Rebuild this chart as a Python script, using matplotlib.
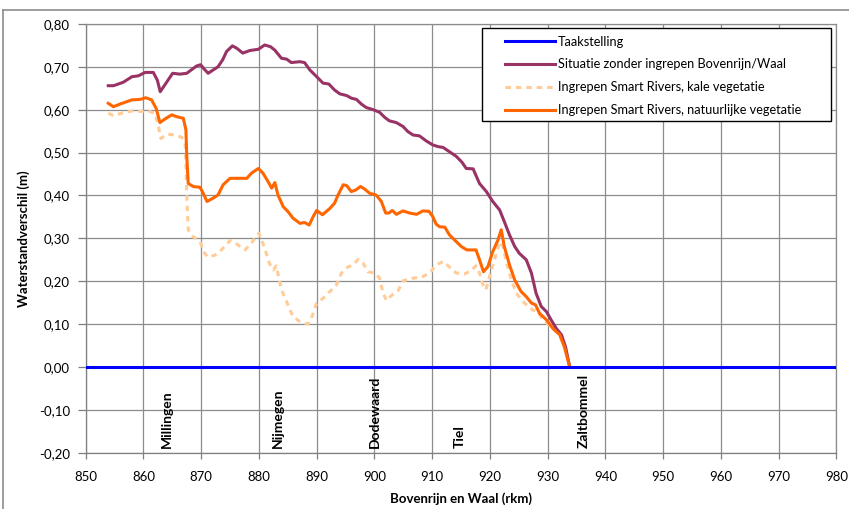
import matplotlib
matplotlib.use("Agg")
import matplotlib.pyplot as plt
from matplotlib.ticker import FuncFormatter, MultipleLocator
from matplotlib.lines import Line2D
from matplotlib.patches import Rectangle

plt.rcParams['font.family'] = ['Lato', 'DejaVu Sans']

# Taakstelling
taak_km = [850, 980]
taak_val = [0.0, 0.0]

# Situatie zonder ingrepen Bovenrijn/Waal
zonder_km = [853.9, 854.8, 856.5, 858.0, 859.1, 860.3, 861.7, 862.4, 862.9, 863.9,
             865.05, 866.3, 867.5, 868.3, 869.2, 869.9, 870.5, 871.2, 872.1, 872.9,
             873.7, 874.4, 875.4, 876.2, 877.2, 878.4, 879.9, 881.0, 882.0, 882.75,
             883.9, 884.8, 885.6, 887.1, 887.9, 888.8, 890.0, 891.1, 892.1, 893.1,
             894.0, 895.2, 896.0, 896.9, 897.75, 898.6, 899.8, 900.9, 901.8, 902.6,
             903.8, 904.95, 905.8, 906.7, 907.8, 909.0, 910.1, 911.0, 911.9, 913.0,
             914.2, 915.2, 915.9, 917.1, 918.2, 919.4, 920.5, 921.7, 922.5, 923.4,
             924.3, 925.1, 926.3, 927.2, 928.0, 928.9, 929.8, 930.6, 931.5, 932.4,
             933.1, 933.8]
zonder_val = [0.656, 0.656, 0.664, 0.677, 0.679, 0.687, 0.687, 0.669, 0.642, 0.662,
              0.685, 0.683, 0.685, 0.693, 0.702, 0.705, 0.695, 0.685, 0.693, 0.700,
              0.716, 0.736, 0.749, 0.743, 0.732, 0.738, 0.741, 0.751, 0.747, 0.739,
              0.720, 0.718, 0.710, 0.712, 0.710, 0.693, 0.677, 0.662, 0.660, 0.646,
              0.637, 0.633, 0.627, 0.624, 0.613, 0.605, 0.600, 0.594, 0.582, 0.574,
              0.570, 0.561, 0.549, 0.541, 0.539, 0.527, 0.518, 0.514, 0.512, 0.502,
              0.491, 0.477, 0.463, 0.462, 0.428, 0.409, 0.386, 0.366, 0.339, 0.308,
              0.281, 0.265, 0.250, 0.219, 0.172, 0.141, 0.129, 0.110, 0.090, 0.075,
              0.047, 0.002]

# Ingrepen Smart Rivers, kale vegetatie
kaal_km = [853.9, 854.8, 856.2, 858.0, 859.4, 860.8, 862.0, 862.6, 863.0, 864.1,
           865.45, 866.6, 867.2, 867.35, 867.5, 867.75, 868.6, 869.8, 870.6, 871.2,
           872.4, 873.5, 875.0, 876.1, 877.6, 878.7, 880.0, 881.0, 881.8, 882.5,
           883.0, 883.9, 884.8, 885.9, 887.1, 888.5, 889.1, 890.0, 891.1, 892.6,
           893.4, 894.3, 895.4, 896.3, 897.2, 898.0, 898.9, 900.05, 900.9, 901.5,
           902.1, 902.9, 904.1, 904.95, 906.7, 908.4, 909.6, 910.7, 911.9, 913.0,
           914.2, 915.6, 916.8, 917.6, 918.2, 918.7, 919.3, 919.95, 920.8, 921.7,
           922.25, 922.9, 923.9, 924.8, 926.0, 927.4, 928.3, 929.2, 930.9, 932.1,
           932.9, 933.8]
kaal_val = [0.592, 0.586, 0.592, 0.597, 0.596, 0.597, 0.592, 0.561, 0.533, 0.543,
            0.541, 0.536, 0.522, 0.475, 0.400, 0.320, 0.304, 0.292, 0.265, 0.256,
            0.261, 0.273, 0.295, 0.287, 0.273, 0.289, 0.312, 0.277, 0.242, 0.226,
            0.236, 0.180, 0.152, 0.117, 0.106, 0.100, 0.114, 0.149, 0.160, 0.180,
            0.191, 0.219, 0.233, 0.238, 0.251, 0.243, 0.222, 0.219, 0.207, 0.172,
            0.155, 0.166, 0.178, 0.201, 0.207, 0.211, 0.219, 0.238, 0.246, 0.233,
            0.219, 0.217, 0.225, 0.236, 0.219, 0.195, 0.180, 0.211, 0.250, 0.292,
            0.281, 0.242, 0.195, 0.168, 0.149, 0.133, 0.129, 0.110, 0.090, 0.075,
            0.047, 0.002]

# Ingrepen Smart Rivers, natuurlijke vegetatie
natuur_km = [853.9, 854.8, 855.9, 858.0, 859.4, 860.4, 861.4, 862.2, 862.85, 863.9,
             864.9, 865.7, 866.9, 867.35, 867.5, 867.75, 868.6, 869.8, 870.35, 871.0,
             872.1, 872.9, 873.8, 875.0, 876.7, 877.9, 878.7, 879.9, 880.7, 881.6,
             882.2, 882.75, 883.3, 884.2, 885.05, 885.9, 887.1, 887.9, 888.7, 889.4,
             890.0, 891.0, 892.3, 893.1, 893.7, 894.6, 895.2, 896.0, 896.8, 897.6,
             898.3, 899.2, 900.3, 901.2, 901.95, 902.5, 903.1, 903.8, 904.95, 906.1,
             907.3, 908.4, 909.45, 910.1, 910.7, 911.3, 912.2, 913.0, 913.9, 915.05,
             916.0, 917.6, 918.2, 918.9, 919.65, 920.5, 921.4, 921.97, 922.5, 923.4,
             924.3, 925.4, 926.3, 927.2, 927.9, 928.6, 929.8, 930.9, 932.1, 932.9,
             933.8]
natuur_val = [0.615, 0.607, 0.613, 0.623, 0.624, 0.628, 0.623, 0.603, 0.570, 0.580,
              0.588, 0.584, 0.580, 0.553, 0.491, 0.428, 0.421, 0.419, 0.405, 0.386,
              0.394, 0.401, 0.425, 0.440, 0.440, 0.440, 0.452, 0.463, 0.452, 0.432,
              0.417, 0.430, 0.401, 0.374, 0.362, 0.347, 0.335, 0.337, 0.331, 0.351,
              0.365, 0.355, 0.370, 0.382, 0.401, 0.425, 0.423, 0.409, 0.413, 0.421,
              0.415, 0.405, 0.401, 0.386, 0.359, 0.359, 0.365, 0.356, 0.364, 0.359,
              0.356, 0.364, 0.363, 0.351, 0.333, 0.327, 0.326, 0.308, 0.296, 0.281,
              0.273, 0.273, 0.250, 0.222, 0.234, 0.269, 0.296, 0.320, 0.281, 0.238,
              0.203, 0.176, 0.164, 0.149, 0.145, 0.125, 0.110, 0.090, 0.075, 0.047,
              0.002]

plaatsen = ["Millingen", "Nijmegen", "Dodewaard", "Tiel", "Zaltbommel"]
plaatsen_km = [864.0, 883.2, 900.0, 914.8, 936.3]

W, H = 849, 509
fig = plt.figure(figsize=(W / 100, H / 100), dpi=100)
ax = fig.add_axes([0.101, 0.1106, 0.884, 0.8423])

grid_c = "#8c8c8c"
ax.plot(taak_km, taak_val, color="#0000ff", lw=2.2, label="Taakstelling", zorder=4)
ax.plot(zonder_km, zonder_val, color="#993366", lw=2.2,
        label="Situatie zonder ingrepen Bovenrijn/Waal", zorder=3)
ax.plot(kaal_km, kaal_val, color="#ffcc99", lw=2.2, dashes=(1.8, 1.6),
        label="Ingrepen Smart Rivers, kale vegetatie", zorder=2)
ax.plot(natuur_km, natuur_val, color="#ff6600", lw=2.2,
        label="Ingrepen Smart Rivers, natuurlijke vegetatie", zorder=3)

for naam, km in zip(plaatsen, plaatsen_km):
    ax.text(km, -0.188, naam, rotation=90, ha="center", va="bottom",
            fontsize=10, fontweight="bold", zorder=5)

ax.set_xlim(850, 980)
ax.set_ylim(-0.2, 0.8)
ax.xaxis.set_major_locator(MultipleLocator(10))
ax.yaxis.set_major_locator(MultipleLocator(0.1))
ax.yaxis.set_major_formatter(FuncFormatter(lambda v, p: f"{v:.2f}".replace(".", ",").replace("-0,00", "0,00")))
ax.grid(True, color=grid_c, lw=0.9)
ax.set_axisbelow(True)
for s in ["top", "right"]:
    ax.spines[s].set_color(grid_c)
    ax.spines[s].set_linewidth(0.9)
for s in ["left", "bottom"]:
    ax.spines[s].set_color("#7f7f7f")
    ax.spines[s].set_linewidth(0.9)
ax.tick_params(axis="both", labelsize=9.5, color="#7f7f7f", width=0.9)
ax.tick_params(axis="x", length=4, pad=9)
ax.tick_params(axis="y", length=5.5, pad=6)

ax.set_xlabel("Bovenrijn en Waal (rkm)", fontsize=9.5, fontweight="bold", labelpad=7)
ax.set_ylabel("Waterstandverschil (m)", fontsize=9.5, fontweight="bold", labelpad=6)

# legend frame drawn separately, entries placed inside with Excel-like left padding
ax.add_patch(Rectangle((482 / W, 1 - 121 / H), (830.7 - 482) / W, (121 - 28.3) / H,
                       transform=fig.transFigure, facecolor="white",
                       edgecolor="black", lw=1.0, zorder=5, clip_on=False))
leg = ax.legend(loc="upper left", bbox_to_anchor=(505 / W, 1 - 35.5 / H),
                bbox_transform=fig.transFigure, fontsize=9.2, frameon=False,
                handlelength=3.9, handletextpad=0.25, borderpad=0,
                labelspacing=0.86, borderaxespad=0)
leg.set_zorder(6)

# outer chart border (top and left visible)
fig.add_artist(Line2D([3 / W, 3 / W], [0, 1 - 10 / H], color="#8c8c8c", lw=1.2,
                      transform=fig.transFigure))
fig.add_artist(Line2D([3 / W, 1], [1 - 10 / H, 1 - 10 / H], color="#8c8c8c", lw=1.2,
                      transform=fig.transFigure))

fig.savefig("out.png", dpi=100)
